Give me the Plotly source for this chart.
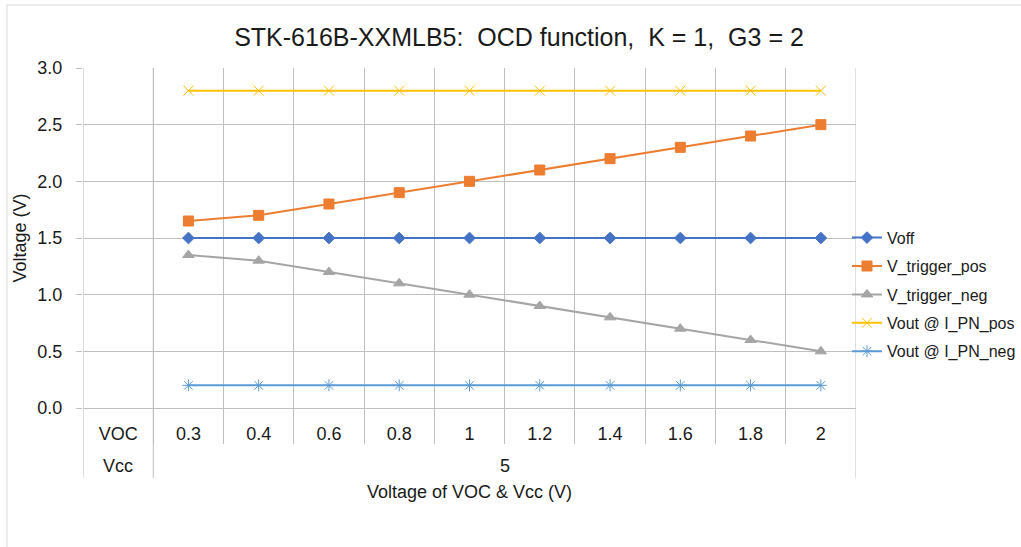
import plotly.graph_objects as go

# ---- data ----
voc_labels = ["0.3", "0.4", "0.6", "0.8", "1", "1.2", "1.4", "1.6", "1.8", "2"]
first_label = "VOC"
outer_labels = ["Vcc", "5"]
voff = [1.5, 1.5, 1.5, 1.5, 1.5, 1.5, 1.5, 1.5, 1.5, 1.5]
v_trigger_pos = [1.65, 1.7, 1.8, 1.9, 2.0, 2.1, 2.2, 2.3, 2.4, 2.5]
v_trigger_neg = [1.35, 1.3, 1.2, 1.1, 1.0, 0.9, 0.8, 0.7, 0.6, 0.5]
vout_pos = [2.8, 2.8, 2.8, 2.8, 2.8, 2.8, 2.8, 2.8, 2.8, 2.8]
vout_neg = [0.2, 0.2, 0.2, 0.2, 0.2, 0.2, 0.2, 0.2, 0.2, 0.2]

all_labels = [first_label] + voc_labels
n = len(all_labels)
xpos = list(range(1, n))  # data categories follow the header slot

FONT = "Liberation Sans, Arial, sans-serif"
GRID = "#BFBFBF"
TXT = "#1a1a1a"

series = [
    ("Voff", voff, "#4472C4", "diamond", 9),
    ("V_trigger_pos", v_trigger_pos, "#ED7D31", "square", 10),
    ("V_trigger_neg", v_trigger_neg, "#A5A5A5", "triangle-up", 10),
    ("Vout @ I_PN_pos", vout_pos, "#FFC000", "x-thin-open", 10),
    ("Vout @ I_PN_neg", vout_neg, "#5B9BD5", "asterisk-open", 10),
]

fig = go.Figure()
for name, vals, col, sym, sz in series:
    fig.add_trace(go.Scatter(
        x=xpos, y=vals, name=name, mode="lines+markers", legendgroup=name,
        line=dict(color=col, width=2),
        marker=dict(symbol=sym, size=sz, color=col, line=dict(color=col, width=1)),
    ))

L, R, T, B = 83, 165, 68, 139
W, H = 1021, 547
pw = W - L - R
ph = H - T - B

def py(px):
    return (H - B - px) / ph

def pxx(px):
    return (px - L) / pw

shapes = []
# long dividers: left edge, header boundary, right edge
for xv in [-0.5, 0.5, n - 0.5]:
    shapes.append(dict(type="line", xref="x", yref="paper", x0=xv, x1=xv,
                       y0=1, y1=py(478), line=dict(color=GRID, width=1)))
# outer chart border
shapes.append(dict(type="rect", xref="paper", yref="paper",
                   x0=pxx(7), x1=pxx(1030), y0=py(5), y1=py(560),
                   line=dict(color="#D9D9D9", width=1)))

annotations = []
annotations.append(dict(x=0, y=py(466), xref="x", yref="paper", text=outer_labels[0],
                        yanchor="middle", showarrow=False,
                        font=dict(size=18, color=TXT, family=FONT)))
annotations.append(dict(x=(1 + n - 1) / 2, y=py(466), xref="x", yref="paper", text=outer_labels[1],
                        yanchor="middle", showarrow=False,
                        font=dict(size=18, color=TXT, family=FONT)))
annotations.append(dict(x=(n - 1) / 2, y=py(492), xref="x", yref="paper",
                        text="Voltage of VOC & Vcc (V)", yanchor="middle",
                        showarrow=False, font=dict(size=18, color=TXT, family=FONT)))

NB = "\u00a0"
fig.update_layout(
    width=W, height=H,
    margin=dict(l=L, r=R, t=T, b=B, autoexpand=False),
    paper_bgcolor="white", plot_bgcolor="white",
    font=dict(family=FONT, size=16, color=TXT),
    title=dict(text=f"STK-616B-XXMLB5:{NB}{NB}OCD function,{NB}{NB}K = 1,{NB}{NB}G3 = 2",
               x=pxx(519), xref="paper", xanchor="center",
               y=1 - 37 / H, yanchor="middle",
               font=dict(size=25, color=TXT, family=FONT)),
    showlegend=True,
    legend=dict(x=pxx(847), xanchor="left", y=py(236) + 0.045, yanchor="top",
                font=dict(size=16, color=TXT, family=FONT),
                bgcolor="rgba(0,0,0,0)", itemwidth=30,
                traceorder="grouped", tracegroupgap=4.6),
    shapes=shapes, annotations=annotations,
)

fig.update_xaxes(
    range=[-0.5, n - 0.5], tickmode="array",
    tickvals=list(range(n)), ticktext=all_labels,
    showgrid=False, ticks="", zeroline=False,
    showline=True, linecolor=GRID, linewidth=1,
    tickfont=dict(size=18, color=TXT, family=FONT),
    ticklabelstandoff=9,
    minor=dict(tickmode="array", tickvals=[i + 0.5 for i in range(n - 1)],
               ticks="outside", ticklen=35, tickcolor=GRID,
               showgrid=True, gridcolor=GRID, gridwidth=1),
)
fig.update_yaxes(
    range=[0, 3], dtick=0.5, tickformat=".1f",
    showgrid=True, gridcolor=GRID, gridwidth=1, zeroline=False,
    ticks="outside", ticklen=6, tickcolor=GRID,
    tickfont=dict(size=18, color=TXT, family=FONT),
    ticklabelstandoff=10,
    title=dict(text="Voltage (V)", font=dict(size=18, color=TXT, family=FONT), standoff=6),
    showline=False,
)

fig.write_html("out.html")
